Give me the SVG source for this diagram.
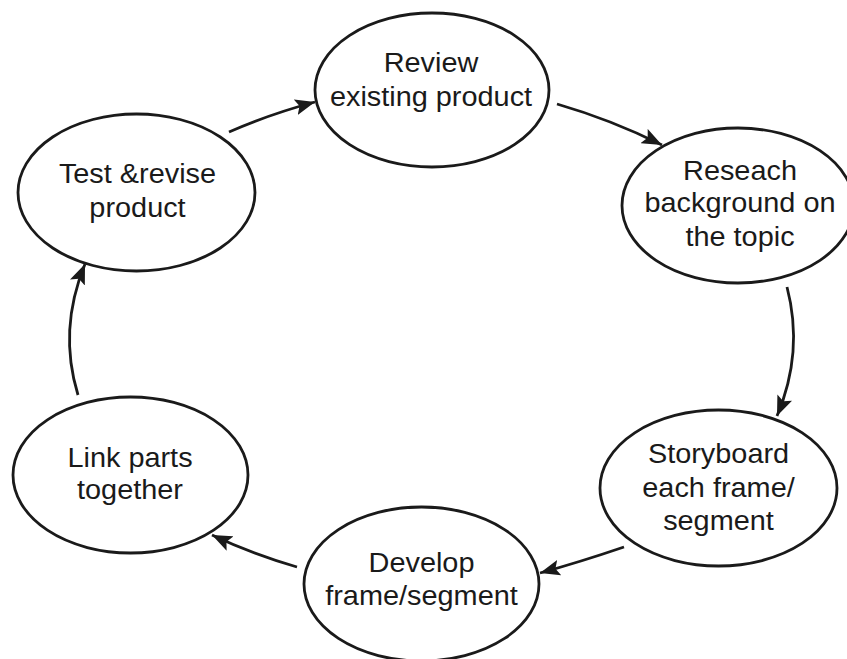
<svg xmlns="http://www.w3.org/2000/svg" width="847" height="659" viewBox="0 0 847 659">
<style>
.node ellipse{fill:#fff;stroke:#1a1a1a;stroke-width:2.8}
.node text{font-family:"Liberation Sans",Arial,sans-serif;font-size:27.5px;fill:#1a1a1a;text-anchor:middle}
.conn path{fill:none;stroke:#1a1a1a;stroke-width:2.8}
</style>
<defs>
<marker id="ah" markerUnits="userSpaceOnUse" markerWidth="22" markerHeight="16" refX="20" refY="8" orient="auto">
<path d="M0,0 L20,8 L0,16 L4,8 z" fill="#1a1a1a"/>
</marker>
</defs>
<rect width="847" height="659" fill="#fff"/>
<g id="connectors" class="conn">
<path d="M229,132 Q270,114 315,102" marker-end="url(#ah)"/>
<path d="M557,104 Q612,120 662,145" marker-end="url(#ah)"/>
<path d="M787,287 Q804,352 777,416" marker-end="url(#ah)"/>
<path d="M624,547 Q580,562 540,573" marker-end="url(#ah)"/>
<path d="M297,567 Q252,554 212,535" marker-end="url(#ah)"/>
<path d="M78,395 Q58,330 85,264" marker-end="url(#ah)"/>
</g>
<g id="review" class="node">
<ellipse cx="432" cy="90" rx="117" ry="77"/>
<text transform="translate(431 0) scale(1.05 1)"><tspan x="0" y="72">Review</tspan><tspan x="0" y="106">existing product</tspan></text>
</g>
<g id="research" class="node">
<ellipse cx="738" cy="205.5" rx="116" ry="77.5"/>
<text transform="translate(740 0) scale(1.05 1)"><tspan x="0" y="180">Reseach</tspan><tspan x="0" y="212">background on</tspan><tspan x="0" y="246.5">the topic</tspan></text>
</g>
<g id="storyboard" class="node">
<ellipse cx="718.5" cy="488" rx="118.5" ry="78"/>
<text transform="translate(718.5 0) scale(1.05 1)"><tspan x="0" y="463">Storyboard</tspan><tspan x="0" y="497">each frame/</tspan><tspan x="0" y="530">segment</tspan></text>
</g>
<g id="develop" class="node">
<ellipse cx="421.5" cy="584" rx="117.5" ry="77"/>
<text transform="translate(421.5 0) scale(1.05 1)"><tspan x="0" y="572">Develop</tspan><tspan x="0" y="605">frame/segment</tspan></text>
</g>
<g id="link" class="node">
<ellipse cx="130.5" cy="475" rx="117.5" ry="78"/>
<text transform="translate(130 0) scale(1.05 1)"><tspan x="0" y="467">Link parts</tspan><tspan x="0" y="499">together</tspan></text>
</g>
<g id="test" class="node">
<ellipse cx="136.5" cy="192.5" rx="118.5" ry="78.5"/>
<text transform="translate(137.5 0) scale(1.05 1)"><tspan x="0" y="183">Test &amp;revise</tspan><tspan x="0" y="217">product</tspan></text>
</g>
</svg>
